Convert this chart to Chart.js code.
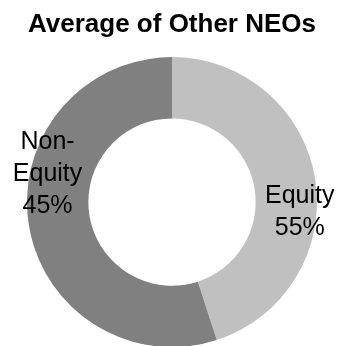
<!DOCTYPE html>
<html>
<head>
<meta charset="utf-8">
<script src="https://cdn.jsdelivr.net/npm/chart.js@4/dist/chart.umd.min.js"></script>
<style>
  html, body { margin: 0; padding: 0; background: #ffffff; }
  #wrap { width: 339px; height: 346px; }
</style>
</head>
<body>
<div id="wrap"><canvas id="c" width="339" height="346"></canvas></div>
<script>
// ---- data ----
const chartTitle = "Average of Other NEOs";
const categories = ["Equity", "Non-Equity"];
// angular share of each slice as drawn in the picture
const sliceShares = [45, 55];
// label text as printed on the picture
const labelLines = [["Equity", "55%"], ["Non-", "Equity", "45%"]];
const sliceColors = ["#c0c0c0", "#808080"];

const FONT = "'Liberation Sans', Arial, Helvetica, sans-serif";

const labelPlugin = {
  id: "sliceLabels",
  afterDatasetsDraw(chart) {
    const ctx = chart.ctx;
    const meta = chart.getDatasetMeta(0);
    const nudgeDeg = [12.6, 22.6];
    const size = 25, pitch = 32, capHalf = 9;
    ctx.save();
    ctx.font = size + "px " + FONT;
    ctx.fillStyle = "#000000";
    ctx.textAlign = "center";
    ctx.textBaseline = "alphabetic";
    meta.data.forEach((arc, i) => {
      const p = arc.getProps(["x", "y", "startAngle", "endAngle", "outerRadius"], true);
      const mid = (p.startAngle + p.endAngle) / 2 + nudgeDeg[i] * Math.PI / 180;
      const r = p.outerRadius * 0.883;
      const cx = p.x + r * Math.cos(mid);
      const cy = p.y + r * Math.sin(mid);
      const lines = labelLines[i];
      const n = lines.length;
      lines.forEach((t, j) => {
        ctx.fillText(t, cx, cy + capHalf + (j - (n - 1) / 2) * pitch);
      });
    });
    ctx.restore();
  }
};

new Chart(document.getElementById("c"), {
  type: "doughnut",
  data: {
    labels: categories,
    datasets: [{
      data: sliceShares,
      backgroundColor: sliceColors,
      borderWidth: 0,
      radius: 145,
      cutout: 83,
      clip: false
    }]
  },
  options: {
    responsive: false,
    animation: false,
    devicePixelRatio: 1,
    layout: { padding: { left: 5, top: 0, right: 0, bottom: 0 } },
    plugins: {
      legend: { display: false },
      tooltip: { enabled: false },
      title: {
        display: true,
        text: chartTitle,
        color: "#000000",
        font: { family: FONT, size: 26, weight: "bold", lineHeight: 1.2 },
        padding: { top: 9, bottom: 18 }
      }
    }
  },
  plugins: [labelPlugin]
});
</script>
</body>
</html>
